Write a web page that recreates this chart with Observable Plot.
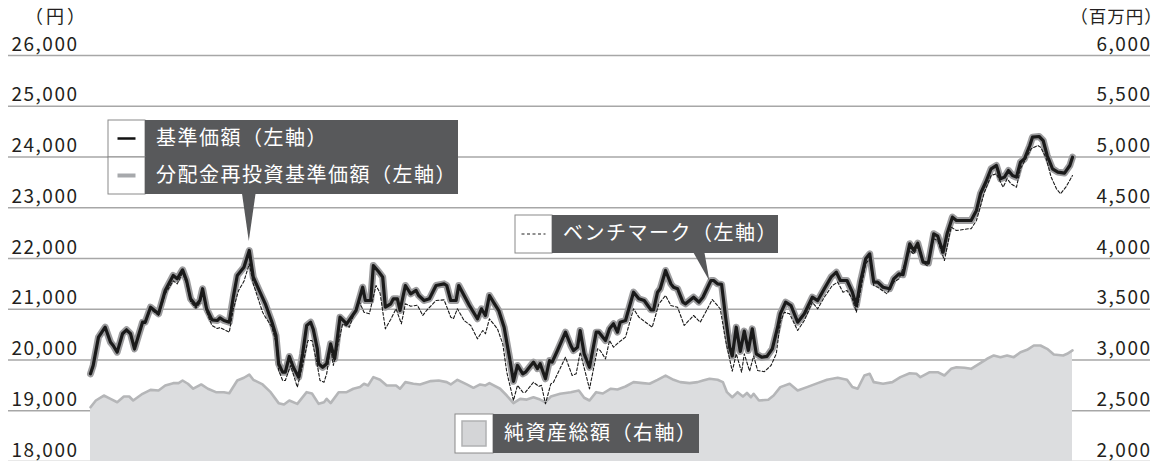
<!DOCTYPE html>
<html><head><meta charset="utf-8">
<script src="https://cdn.jsdelivr.net/npm/d3@7"></script>
<script src="https://cdn.jsdelivr.net/npm/@observablehq/plot@0.6"></script>
<style>
html,body{margin:0;padding:0;background:#fff;}
#chart{position:relative;width:1155px;height:461px;}
</style></head>
<body><div id="chart"></div>
<script>
// [営業日インデックス, 値]
const nav = [[0,19728],[2,19892],[6,20450],[11,20646],[15,20350],[17,20286],[20,20155],[24,20517],[27,20595],[30,20517],[33,20220],[39,20745],[41,20745],[45,21040],[51,20910],[56,21370],[62,21665],[65,21600],[69,21777],[72,21567],[75,21206],[79,21074],[82,21172],[84,21404],[87,21009],[91,20792],[95,20778],[97,20831],[100,20778],[104,20745],[107,21237],[110,21665],[115,21829],[119,22158],[122,21632],[127,21336],[131,21107],[136,20745],[139,20483],[141,19926],[144,19760],[146,19760],[149,20069],[152,19857],[156,19662],[159,20122],[162,20680],[165,20745],[167,20600],[170,20220],[171,19926],[174,19857],[177,19926],[180,20319],[183,20023],[187,20844],[192,20713],[199,20975],[204,21434],[206,21172],[210,21172],[212,21862],[216,21740],[219,21632],[221,21040],[225,21106],[227,21206],[230,21206],[232,20975],[236,21468],[240,21304],[244,21370],[246,21271],[250,21172],[254,21206],[259,21468],[265,21500],[267,21468],[270,21172],[274,21172],[276,21468],[280,21271],[284,21074],[290,20812],[293,21009],[296,20877],[299,21271],[302,21140],[306,20975],[310,20646],[314,20055],[317,19580],[320,19892],[324,19728],[326,19760],[330,19892],[332,19957],[335,19830],[337,19926],[341,19630],[344,19990],[346,19957],[350,20187],[356,20548],[360,20286],[362,20187],[365,20250],[367,20581],[370,20122],[374,19857],[379,20548],[381,20548],[386,20384],[389,20614],[392,20713],[395,20548],[397,20745],[401,20778],[407,21336],[411,21206],[415,21172],[420,20989],[422,20989],[425,21336],[427,21404],[431,21764],[435,21500],[437,21434],[440,21404],[444,21140],[446,21107],[452,21237],[456,21140],[459,21237],[465,21567],[467,21567],[470,21500],[473,21490],[476,20844],[479,20253],[481,20080],[484,20646],[487,20170],[490,20570],[493,20187],[496,20614],[499,20122],[503,20055],[507,20070],[511,20220],[515,20646],[517,20910],[521,21140],[525,21074],[530,20745],[535,20910],[541,21237],[545,21172],[550,21404],[555,21632],[559,21730],[562,21567],[567,21567],[571,21336],[574,21074],[577,21534],[581,21993],[584,22092],[587,21534],[590,21534],[594,21434],[599,21404],[602,21600],[606,21698],[609,21680],[614,22290],[617,22158],[620,22302],[624,21928],[628,21910],[632,22487],[635,22440],[639,22125],[642,22487],[646,22815],[649,22749],[654,22749],[660,22749],[664,22946],[667,23275],[671,23503],[675,23768],[679,23833],[682,23570],[685,23603],[688,23734],[691,23636],[694,23603],[697,23897],[700,23965],[704,24227],[706,24390],[711,24404],[714,24325],[717,24030],[721,23768],[725,23702],[730,23683],[734,23833],[736,23996]];

// 分配金再投資基準価額（分配実績なしのため基準価額と同値）
const reinvest = nav.map(d => [d[0], d[1]]);

const benchmark = [[0,19728],[2,19892],[6,20450],[11,20640],[15,20350],[17,20280],[20,20155],[24,20500],[27,20580],[30,20500],[33,20200],[39,20720],[41,20720],[45,21000],[51,20880],[56,21300],[62,21560],[65,21500],[69,21720],[72,21500],[75,21150],[79,21020],[82,21120],[84,21340],[87,20950],[91,20680],[95,20620],[97,20640],[100,20600],[104,20548],[107,21000],[111,21370],[115,21550],[119,21896],[122,21500],[129,20941],[131,20850],[136,20646],[139,20350],[141,19800],[144,19596],[146,19596],[150,19892],[155,19464],[159,19900],[163,20384],[166,20384],[170,19900],[172,19596],[175,19562],[177,19728],[180,20253],[182,19892],[189,20713],[194,20646],[201,21172],[205,20941],[209,20910],[214,21468],[217,21320],[221,20614],[225,20800],[229,21009],[233,20713],[236,21107],[240,21060],[245,21080],[249,20877],[252,20980],[259,21172],[265,21185],[270,20844],[272,20812],[275,21009],[280,20778],[285,20680],[290,20417],[294,20581],[296,20517],[299,20812],[305,20614],[309,20319],[312,19760],[317,19202],[320,19500],[324,19366],[326,19366],[332,19562],[336,19480],[338,19500],[341,19137],[345,19530],[347,19560],[356,20055],[361,19695],[364,19728],[367,20155],[374,19432],[380,20220],[382,20187],[386,20023],[389,20384],[392,20253],[396,20350],[401,20450],[407,21009],[411,20844],[416,20745],[421,20646],[426,21107],[431,21271],[435,21074],[440,21040],[445,20680],[452,20877],[457,20745],[461,20941],[466,21190],[472,21009],[476,20384],[481,19780],[484,20122],[488,19760],[490,20122],[494,19780],[497,20080],[500,19793],[505,19770],[510,19892],[514,20122],[517,20745],[520,20941],[524,20910],[530,20581],[535,20778],[541,21140],[545,21009],[550,21237],[556,21468],[560,21534],[564,21336],[567,21370],[571,21206],[574,20941],[581,21896],[584,21993],[587,21468],[590,21434],[597,21304],[602,21534],[606,21600],[614,22158],[617,22092],[620,22224],[625,21896],[627,21860],[632,22388],[635,22355],[640,21960],[645,22618],[649,22552],[658,22585],[660,22585],[664,22749],[670,23306],[675,23636],[679,23669],[684,23405],[687,23570],[690,23470],[694,23405],[697,23768],[701,23965],[705,24162],[710,24227],[712,24195],[716,23996],[720,23603],[724,23373],[727,23275],[731,23405],[736,23636]];

// 純資産総額（百万円）
const netAssets = [[0,2535],[4,2601],[10,2650],[15,2617],[20,2584],[25,2640],[29,2640],[32,2601],[39,2667],[45,2706],[51,2700],[56,2749],[62,2772],[66,2772],[69,2798],[73,2766],[77,2717],[83,2759],[88,2717],[94,2683],[100,2683],[104,2673],[110,2798],[115,2825],[119,2857],[122,2805],[129,2759],[135,2683],[141,2575],[145,2562],[149,2601],[155,2568],[162,2683],[166,2670],[171,2568],[175,2584],[177,2617],[180,2575],[186,2683],[192,2683],[197,2717],[202,2733],[205,2766],[208,2749],[212,2831],[217,2805],[222,2749],[229,2749],[232,2717],[236,2782],[242,2766],[247,2759],[255,2792],[261,2798],[267,2782],[270,2759],[275,2805],[282,2759],[287,2726],[292,2759],[296,2749],[299,2772],[307,2717],[312,2650],[317,2575],[322,2617],[327,2610],[332,2633],[337,2610],[341,2584],[345,2640],[352,2667],[360,2683],[366,2700],[370,2628],[374,2601],[379,2683],[384,2670],[390,2717],[395,2710],[401,2739],[407,2782],[414,2772],[419,2766],[425,2805],[431,2847],[437,2805],[442,2782],[449,2772],[455,2782],[459,2798],[464,2815],[470,2805],[474,2782],[477,2683],[481,2633],[485,2683],[489,2640],[492,2675],[495,2633],[497,2667],[501,2601],[508,2608],[512,2650],[517,2733],[524,2766],[530,2700],[537,2733],[545,2772],[552,2805],[560,2825],[567,2805],[571,2733],[575,2717],[580,2847],[584,2864],[587,2782],[594,2766],[601,2782],[607,2831],[614,2870],[619,2864],[622,2831],[629,2880],[635,2880],[640,2847],[645,2913],[649,2929],[655,2923],[660,2913],[666,2962],[672,3012],[677,3045],[682,3028],[687,3045],[692,3028],[697,3077],[702,3100],[707,3143],[712,3143],[717,3110],[722,3054],[729,3045],[732,3061],[736,3094]];

const leftTicks = [18000,19000,20000,21000,22000,23000,24000,25000,26000];
const rightTicks = [2000,2500,3000,3500,4000,4500,5000,5500,6000];

const FONT = '"Noto Sans CJK JP","Noto Sans",sans-serif';
const fmt = d3.format(",");
// 右軸（百万円）→左軸（円）への換算
const toLeft = v => 18000 + (v - 2000) * 2;

const rows = a => a.map(d => ({t: d[0], v: d[1]}));
const navD = rows(nav), reD = rows(reinvest), bmD = rows(benchmark), naD = rows(netAssets);

const plot = Plot.plot({
  width: 1155, height: 461,
  marginLeft: 8, marginRight: 5, marginTop: 55, marginBottom: 0,
  x: {domain: [0, 736], range: [90, 1072], axis: null},
  y: {domain: [18000, 26000], axis: null},
  style: {fontFamily: FONT, background: "#fff", overflow: "visible"},
  marks: [
    Plot.ruleY(leftTicks, {stroke: "#a7a7a7", strokeWidth: 1.6}),
    Plot.areaY(naD, {x: "t", y1: 18000, y2: d => toLeft(d.v), fill: "#dcdddf"}),
    Plot.lineY(naD, {x: "t", y: d => toLeft(d.v), stroke: "#b5b6b8", strokeWidth: 2.6}),
    Plot.lineY(reD, {x: "t", y: "v", stroke: "#9d9d9f", strokeWidth: 7, strokeLinejoin: "round"}),
    Plot.lineY(bmD, {x: "t", y: "v", stroke: "#1a1a1a", strokeWidth: 1.1, strokeDasharray: "3,2"}),
    Plot.lineY(navD, {x: "t", y: "v", stroke: "#1a1a1a", strokeWidth: 3.2, strokeLinejoin: "round"}),
    Plot.text(leftTicks, {y: d => d, frameAnchor: "left", textAnchor: "start", dx: 3, dy: -11,
      text: d => fmt(d), fontSize: 19, fill: "#231f20", className: "tick-label"}),
    Plot.text(rightTicks, {y: d => toLeft(d), frameAnchor: "right", textAnchor: "end", dx: 1, dy: -11,
      text: d => fmt(d), fontSize: 19, fill: "#231f20", className: "tick-label"})
  ]
});

document.getElementById("chart").appendChild(plot);

const svg = d3.select(plot);
svg.selectAll(".tick-label text").style("letter-spacing", "1.5px");
const xs = plot.scale("x"), ys = plot.scale("y");
const X = t => xs.apply(t), Y = v => ys.apply(v);

svg.append("text").attr("x", 34).attr("y", 23).attr("font-size", 18).attr("fill", "#231f20")
  .attr("text-anchor", "start").attr("font-family", FONT)
  .style("letter-spacing", "3px").style("font-feature-settings", '"halt"').text("（円）");
svg.append("text").attr("x", 1154).attr("y", 23).attr("font-size", 17.5).attr("fill", "#231f20")
  .attr("text-anchor", "end").attr("font-family", FONT)
  .style("letter-spacing", "1px").style("font-feature-settings", '"halt"').text("（百万円）");

const DARK = "#58595b";
function legend(g, x0, y0, wSq, h, wBox, label, drawSym) {
  g.append("rect").attr("x", x0).attr("y", y0).attr("width", wSq).attr("height", h)
    .attr("fill", "#fff").attr("stroke", "#8a8a8a").attr("stroke-width", 1);
  g.append("rect").attr("x", x0 + wSq).attr("y", y0).attr("width", wBox).attr("height", h).attr("fill", DARK);
  g.append("text").attr("x", x0 + wSq + 11).attr("y", y0 + h / 2 + 1).attr("dominant-baseline", "middle")
    .attr("text-anchor", "start").style("letter-spacing", "1.5px")
    .attr("fill", "#fff").attr("font-size", 20).attr("font-family", FONT).text(label);
  drawSym(g, x0 + wSq / 2, y0 + h / 2);
}

const g = svg.append("g");

// 基準価額 pointer
const pk = nav.reduce((a, b) => (b[0] < 200 && b[1] > a[1]) ? b : a, nav[0]);
const px = X(pk[0]), py = Y(pk[1]);
g.append("path").attr("d", `M${px - 7},192 L${px + 7},192 L${px},${py - 9} Z`).attr("fill", DARK);

legend(g, 108, 120, 37, 37, 313, "基準価額（左軸）", (gg, cx, cy) => {
  gg.append("line").attr("x1", cx - 9).attr("x2", cx + 9).attr("y1", cy).attr("y2", cy)
    .attr("stroke", "#111").attr("stroke-width", 2.5);
});
legend(g, 108, 157, 37, 37, 313, "分配金再投資基準価額（左軸）", (gg, cx, cy) => {
  gg.append("line").attr("x1", cx - 9).attr("x2", cx + 9).attr("y1", cy).attr("y2", cy)
    .attr("stroke", "#a7a9ac").attr("stroke-width", 4);
});

// ベンチマーク pointer
const bp = nav.find(d => d[0] === 465);
const bx = X(bp[0]), by = Y(bp[1]);
g.append("path").attr("d", `M692,250 L704,250 L${bx - 1},${by + 1} Z`).attr("fill", DARK);
legend(g, 515, 215, 37, 38, 226, "ベンチマーク（左軸）", (gg, cx, cy) => {
  gg.append("line").attr("x1", cx - 12).attr("x2", cx + 12).attr("y1", cy).attr("y2", cy)
    .attr("stroke", "#222").attr("stroke-width", 1.2).attr("stroke-dasharray", "3,2.5");
});

legend(g, 455, 414, 38, 39, 206, "純資産総額（右軸）", (gg, cx, cy) => {
  gg.append("rect").attr("x", cx - 12).attr("y", cy - 12.5).attr("width", 24).attr("height", 25)
    .attr("fill", "#d4d5d7").attr("stroke", "#b0b1b3").attr("stroke-width", 1.5);
});
</script></body></html>
